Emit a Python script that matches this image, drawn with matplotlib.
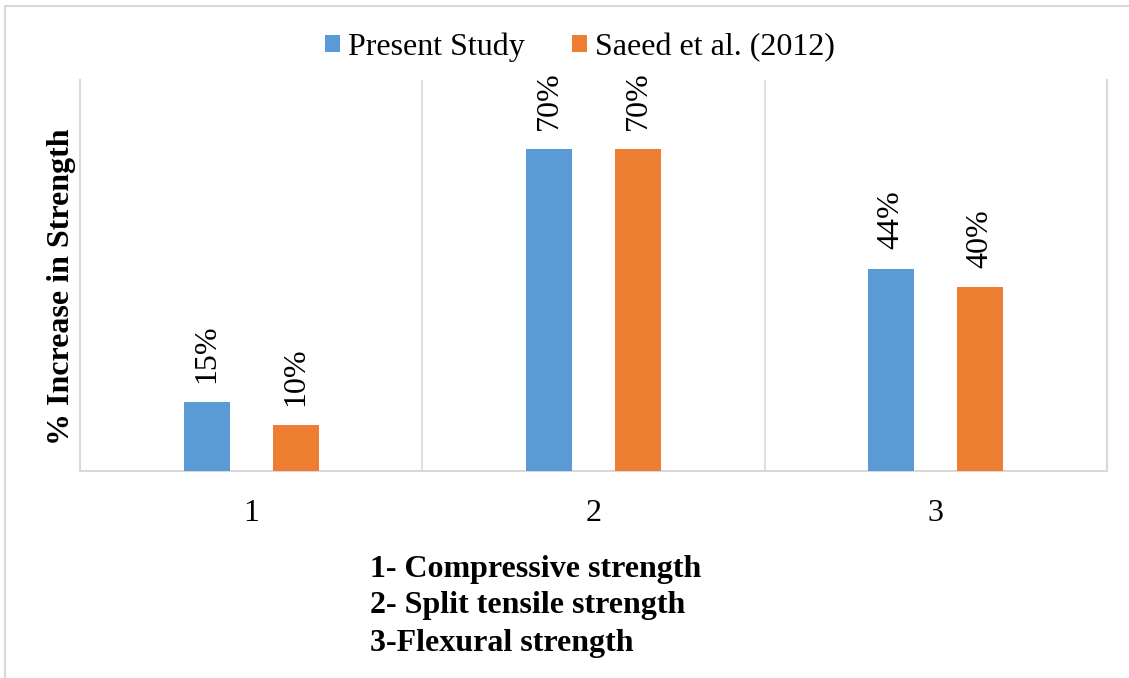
import matplotlib.pyplot as plt
import matplotlib.patches as mpatches
import numpy as np

# data
categories = ["1", "2", "3"]
present_study = [15, 70, 44]
saeed_2012 = [10, 70, 40]
series_names = ["Present Study", "Saeed et al. (2012)"]
notes = ["1- Compressive strength", "2- Split tensile strength", "3-Flexural strength"]

BLUE = "#5B9BD5"
ORANGE = "#ED7D31"
GRID = "#D9D9D9"

plt.rcParams['font.family'] = ['Liberation Serif', 'DejaVu Serif']
FS = 23

W, H = 1129, 678
fig = plt.figure(figsize=(W / 100, H / 100), dpi=100)
ax = fig.add_axes([80 / W, 1 - 471 / H, (1107 - 80) / W, (471 - 80) / H])

x = np.arange(len(categories))
bw = 0.135
off = 0.13
b1 = ax.bar(x - off, present_study, bw, color=BLUE, label=series_names[0], zorder=3)
b2 = ax.bar(x + off, saeed_2012, bw, color=ORANGE, label=series_names[1], zorder=3)

for bars, vals in [(b1, present_study), (b2, saeed_2012)]:
    for rect, v in zip(bars, vals):
        ax.annotate(f"{v}%", (rect.get_x() + rect.get_width() / 2, rect.get_height()),
                    xytext=(0, 14), textcoords="offset points", rotation=90,
                    ha="center", va="bottom", fontsize=FS, clip_on=False)

ax.set_xlim(-0.5, len(categories) - 0.5)
ax.set_ylim(0, 85)
ax.set_yticks([])
ax.set_xticks(x)
ax.set_xticklabels(categories, fontsize=FS)
ax.tick_params(axis="x", length=0, pad=20)
ax.set_xticks(np.arange(0.5, len(categories) - 0.5), minor=True)
ax.tick_params(axis="x", which="minor", length=0)
ax.grid(which="minor", axis="x", color=GRID, lw=1.2, zorder=0)

for s in ["left", "right", "bottom"]:
    ax.spines[s].set_color(GRID)
    ax.spines[s].set_linewidth(1.5)
ax.spines["top"].set_visible(False)

fig.text(62 / W, 1 - 287 / H, "% Increase in Strength", rotation=90, ha="center",
         va="center", fontsize=FS, fontweight="bold")

fig.legend(loc="center", bbox_to_anchor=(580 / W, 1 - 47 / H), ncol=2, frameon=False,
           fontsize=FS, handlelength=0.45, handleheight=0.45, handletextpad=0.25,
           columnspacing=1.5)

for i, line in enumerate(notes):
    fig.text(370 / W, 1 - (569 + 37 * i) / H, line, ha="left", va="center",
             fontsize=FS, fontweight="bold")

# outer chart frame (top and left edges visible)
frame = mpatches.Rectangle((5 / W, -0.1), 1.2, 1 - 6 / H + 0.1, transform=fig.transFigure,
                           fill=False, edgecolor=GRID, lw=1.5)
fig.add_artist(frame)

fig.savefig("out.png", dpi=100)
